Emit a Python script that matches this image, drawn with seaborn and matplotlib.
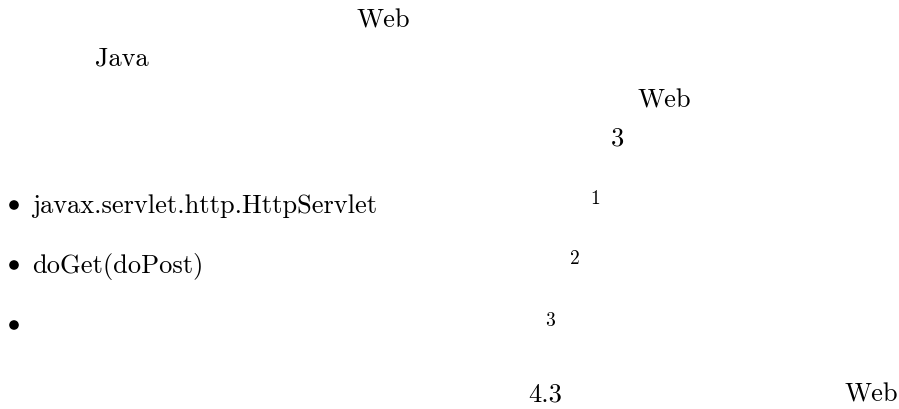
import matplotlib
matplotlib.use("Agg")
import matplotlib.pyplot as plt
import seaborn as sns
import pandas as pd

# text fragments on the page (the CJK parts are missing in the source render)
body_texts = ["Web", "Java", "Web", "3", "4.3", "Web"]
item_texts = ["javax.servlet.http.HttpServlet", "doGet(doPost)", ""]
footnote_marks = ["1", "2", "3"]

# layout (pixel coordinates, y measured from the top, baselines)
body_pos = [(357, 28), (95, 66), (638, 107), (611, 146), (528, 402), (845, 402)]
item_rows = [213, 273, 333]
item_x = 32
bullet_x = 14
mark_pos = [(590, 204), (570, 264), (545, 326)]


def main():
    sns.set_theme(style="white")
    plt.rcParams["mathtext.fontset"] = "cm"
    plt.rcParams["axes.unicode_minus"] = False

    fig = plt.figure(figsize=(8.99, 4.10), dpi=100)
    ax = fig.add_axes([0, 0, 1, 1])
    ax.set_xlim(0, 899)
    ax.set_ylim(410, 0)
    ax.axis("off")

    font = dict(family="cmr10", color="black", va="baseline", ha="left")

    for txt, (x, y) in zip(body_texts, body_pos):
        ax.text(x, y, txt, fontsize=19, **font)

    for txt, y in zip(item_texts, item_rows):
        ax.text(item_x, y, txt, fontsize=19, **font)

    bullets = pd.DataFrame({"x": [bullet_x] * len(item_rows),
                            "y": [r - 7 for r in item_rows]})
    sns.scatterplot(data=bullets, x="x", y="y", ax=ax, color="black",
                    s=48, edgecolor="none", legend=False)

    for txt, (x, y) in zip(footnote_marks, mark_pos):
        ax.text(x, y, txt, fontsize=14, **font)

    fig.savefig("out.png", dpi=100, facecolor="white")


if __name__ == "__main__":
    main()
